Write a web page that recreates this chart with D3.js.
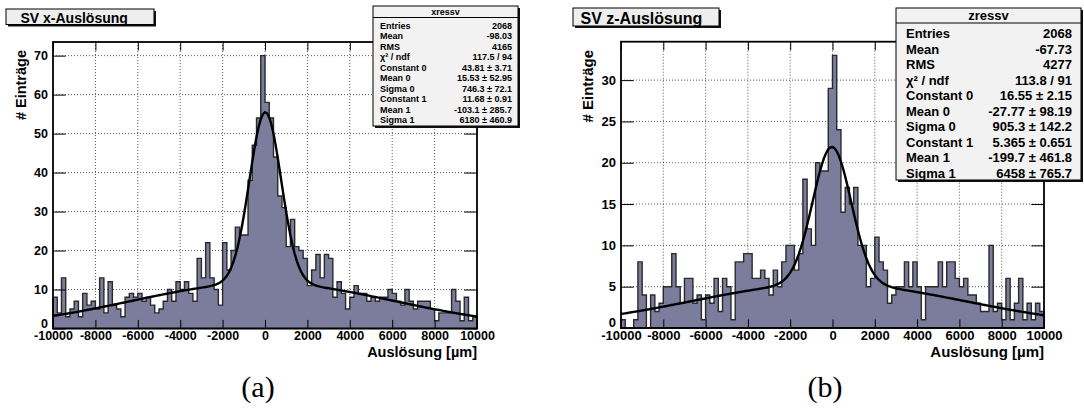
<!DOCTYPE html>
<html>
<head>
<meta charset="utf-8">
<script src="https://cdn.jsdelivr.net/npm/d3@7"></script>
<style>
  body { margin: 0; background: #fff; }
  svg { display: block; font-family: "Liberation Sans", Arial, Helvetica, sans-serif; font-weight: bold; }
</style>
</head>
<body>
<svg id="chart" width="1084" height="414"></svg>
<script>
// histogram range, 100 bins of 200 um
const binLow = -10000
const binHigh = 10000

const xressvCounts = [
  8, 4, 13, 3, 5, 7, 3, 9, 6, 7,
  5, 13, 4, 12, 6, 5, 3, 8, 9, 8,
  9, 7, 8, 6, 4, 5, 7, 10, 7, 12,
  10, 12, 9, 7, 18, 13, 22, 13, 10, 6,
  22, 15, 20, 26, 24, 24, 38, 47, 54, 70,
  58, 54, 44, 34, 31, 21, 28, 21, 20, 18,
  11, 15, 19, 13, 19, 18, 8, 12, 9, 5,
  8, 11, 9, 9, 7, 8, 7, 8, 8, 10,
  9, 7, 6, 10, 7, 5, 7, 7, 7, 5,
  2, 4, 4, 4, 10, 7, 2, 8, 2, 3
]

const zressvCounts = [
  1, 0, 0, 1, 8, 4, 0, 4, 2, 3,
  5, 5, 9, 5, 3, 6, 6, 3, 4, 1,
  4, 3, 6, 2, 6, 5, 1, 8, 8, 9,
  9, 6, 6, 7, 6, 4, 7, 5, 8, 10,
  10, 7, 9, 18, 12, 10, 20, 19, 19, 29,
  33, 24, 14, 17, 15, 17, 10, 10, 5, 6,
  11, 8, 7, 3, 4, 5, 5, 8, 5, 8,
  5, 1, 5, 5, 5, 8, 5, 8, 8, 6,
  5, 6, 4, 4, 3, 2, 2, 10, 2, 3,
  1, 6, 1, 3, 6, 1, 3, 1, 3, 2
]

// double gaussian fit: constant 0, mean 0, sigma 0, constant 1, mean 1, sigma 1
const xressvFit = [43.81, 15.53, 746.3, 11.68, -103.1, 6180]
const zressvFit = [16.55, -27.77, 905.3, 5.365, -199.7, 6458]

const statLabels = ['Entries', 'Mean', 'RMS', 'χ² / ndf', 'Constant 0', 'Mean 0', 'Sigma 0', 'Constant 1', 'Mean 1', 'Sigma 1']
const xressvStats = ['2068', '-98.03', '4165', '117.5 / 94', '43.81 ± 3.71', '15.53 ± 52.95', '746.3 ± 72.1', '11.68 ± 0.91', '-103.1 ± 285.7', '6180 ± 460.9']
const zressvStats = ['2068', '-67.73', '4277', '113.8 / 91', '16.55 ± 2.15', '-27.77 ± 98.19', '905.3 ± 142.2', '5.365 ± 0.651', '-199.7 ± 461.8', '6458 ± 765.7']

const xTicks = [-10000, -8000, -6000, -4000, -2000, 0, 2000, 4000, 6000, 8000, 10000]
const yTicksX = [0, 10, 20, 30, 40, 50, 60, 70]
const yTicksZ = [0, 5, 10, 15, 20, 25, 30]

const svg = d3.select('#chart')

const panels = [
  {
    counts: xressvCounts, fit: xressvFit, stats: xressvStats, name: 'xressv',
    title: 'SV x-Auslösung', caption: '(a)', yTicks: yTicksX, yMinor: 2,
    left: 53, right: 477, top: 42, bottom: 328.5, yMax: 73.5,
    labelSize: 12.5, axisTitleSize: 14.5, yTitleX: 26,
    titleBox: { x: 6, y: 9, w: 148, h: 15.5, size: 14, tx: 20.5, ty: 22.5 },
    statBox: { x: 373, y: 6, w: 145, h: 120, head: 11.5, size: 9, first: 28.5, step: 10.5, pad: 7 },
    captionX: 258
  },
  {
    counts: zressvCounts, fit: zressvFit, stats: zressvStats, name: 'zressv',
    title: 'SV z-Auslösung', caption: '(b)', yTicks: yTicksZ, yMinor: 1,
    left: 621, right: 1044, top: 41.7, bottom: 328, yMax: 34.65,
    labelSize: 13, axisTitleSize: 15, yTitleX: 593,
    titleBox: { x: 573, y: 8, w: 146, h: 18, size: 16, tx: 580.5, ty: 24 },
    statBox: { x: 896, y: 8, w: 185, h: 172, head: 15, size: 13, first: 38, step: 15.5, pad: 10 },
    captionX: 825
  }
]

function gauss2(p, v) {
  return p[0] * Math.exp(-0.5 * Math.pow((v - p[1]) / p[2], 2)) +
    p[3] * Math.exp(-0.5 * Math.pow((v - p[4]) / p[5], 2))
}

function drawPanel(p) {
  const g = svg.append('g')
  const x = d3.scaleLinear().domain([binLow, binHigh]).range([p.left, p.right])
  const y = d3.scaleLinear().domain([0, p.yMax]).range([p.bottom, p.top])
  const binW = (binHigh - binLow) / p.counts.length

  // dotted grid
  g.append('g').selectAll('line')
    .data(xTicks.filter(t => t > binLow && t < binHigh))
    .enter().append('line')
      .attr('x1', d => x(d)).attr('x2', d => x(d))
      .attr('y1', p.top).attr('y2', p.bottom)
      .attr('stroke', '#444').attr('stroke-width', 0.9).attr('stroke-dasharray', '1 2')
  g.append('g').selectAll('line')
    .data(p.yTicks.filter(t => t > 0))
    .enter().append('line')
      .attr('x1', p.left).attr('x2', p.right)
      .attr('y1', d => y(d)).attr('y2', d => y(d))
      .attr('stroke', '#444').attr('stroke-width', 0.9).attr('stroke-dasharray', '1 2')

  // histogram
  const pts = p.counts.map((c, i) => ({ x: binLow + i * binW, c: c }))
  pts.push({ x: binHigh, c: p.counts[p.counts.length - 1] })
  const area = d3.area()
    .x(d => x(d.x))
    .y0(y(0))
    .y1(d => y(d.c))
    .curve(d3.curveStepAfter)
  g.append('path')
    .attr('d', area(pts))
    .attr('fill', '#7c7c9c')
    .attr('stroke', '#2a2a2a')
    .attr('stroke-width', 1.4)

  // fit
  const fitPts = d3.range(0, 201).map(i => binLow + i * (binHigh - binLow) / 200)
  const line = d3.line()
    .x(d => x(d))
    .y(d => y(gauss2(p.fit, d)))
  g.append('path')
    .attr('d', line(fitPts))
    .attr('fill', 'none')
    .attr('stroke', '#000')
    .attr('stroke-width', 2.4)

  // axes, ticks inside the frame
  const xMinor = d3.range(binLow, binHigh + 1, 400)
  const yMinorT = d3.range(0, p.yMax, p.yMinor)
  const xt = 8.6, yt = 12.7
  const plain = d => String(d)

  const bottomAx = g.append('g').attr('transform', `translate(0,${p.bottom})`)
  bottomAx.call(d3.axisBottom(x).tickValues(xMinor).tickSize(-xt / 2).tickFormat(''))
  bottomAx.call(d3.axisBottom(x).tickValues(xTicks).tickSize(-xt).tickPadding(3).tickFormat(plain))
  const topAx = g.append('g').attr('transform', `translate(0,${p.top})`)
  topAx.call(d3.axisTop(x).tickValues(xMinor).tickSize(-xt / 2).tickFormat(''))
  topAx.call(d3.axisTop(x).tickValues(xTicks).tickSize(-xt).tickFormat(''))
  const leftAx = g.append('g').attr('transform', `translate(${p.left},0)`)
  leftAx.call(d3.axisLeft(y).tickValues(yMinorT).tickSize(-yt / 2).tickFormat(''))
  leftAx.call(d3.axisLeft(y).tickValues(p.yTicks).tickSize(-yt).tickPadding(5).tickFormat(plain))
  const rightAx = g.append('g').attr('transform', `translate(${p.right},0)`)
  rightAx.call(d3.axisRight(y).tickValues(yMinorT).tickSize(-yt / 2).tickFormat(''))
  rightAx.call(d3.axisRight(y).tickValues(p.yTicks).tickSize(-yt).tickFormat(''))

  g.selectAll('.domain').remove()
  g.selectAll('.tick line').attr('stroke', '#000').attr('stroke-width', 1)
  g.selectAll('.tick text')
    .attr('fill', '#000')
    .attr('font-family', '"Liberation Sans", Arial, sans-serif')
    .attr('font-weight', 'bold')
    .attr('font-size', p.labelSize)
  // the y "0" sits just above the first x label, as in the original
  leftAx.selectAll('.tick text').filter(d => d === 0).attr('dy', '-0.1em')

  // frame
  g.append('rect')
    .attr('x', p.left).attr('y', p.top)
    .attr('width', p.right - p.left).attr('height', p.bottom - p.top)
    .attr('fill', 'none').attr('stroke', '#000').attr('stroke-width', 1.8)

  // axis titles
  g.append('text')
    .attr('x', p.right).attr('y', 357)
    .attr('text-anchor', 'end')
    .attr('font-size', p.axisTitleSize)
    .text('Auslösung [µm]')
  g.append('text')
    .attr('transform', `translate(${p.yTitleX},50) rotate(-90)`)
    .attr('text-anchor', 'end')
    .attr('font-size', p.axisTitleSize)
    .text('# Einträge')

  // title box
  const tb = p.titleBox
  g.append('rect').attr('x', tb.x + 2).attr('y', tb.y + 2).attr('width', tb.w).attr('height', tb.h).attr('fill', '#111')
  g.append('rect').attr('x', tb.x).attr('y', tb.y).attr('width', tb.w).attr('height', tb.h)
    .attr('fill', '#eeeeee').attr('stroke', '#000').attr('stroke-width', 1)
  g.append('text').attr('x', tb.tx).attr('y', tb.ty).attr('font-size', tb.size).text(p.title)

  // stats box
  const sb = p.statBox
  g.append('rect').attr('x', sb.x + 2).attr('y', sb.y + 2).attr('width', sb.w).attr('height', sb.h).attr('fill', '#111')
  g.append('rect').attr('x', sb.x).attr('y', sb.y).attr('width', sb.w).attr('height', sb.h)
    .attr('fill', '#f2f2f2').attr('stroke', '#000').attr('stroke-width', 1)
  g.append('line')
    .attr('x1', sb.x).attr('x2', sb.x + sb.w)
    .attr('y1', sb.y + sb.head).attr('y2', sb.y + sb.head)
    .attr('stroke', '#000').attr('stroke-width', 1)
  g.append('text')
    .attr('x', sb.x + sb.w / 2).attr('y', sb.y + sb.head - sb.size * 0.25)
    .attr('text-anchor', 'middle').attr('font-size', sb.size)
    .text(p.name)
  const rows = g.append('g').selectAll('g')
    .data(statLabels.map((l, i) => ({ label: l, value: p.stats[i] })))
    .enter().append('g')
  rows.append('text')
    .attr('x', sb.x + sb.pad)
    .attr('y', (d, i) => sb.first + i * sb.step)
    .attr('font-size', sb.size)
    .text(d => d.label)
  rows.append('text')
    .attr('x', sb.x + sb.w - sb.pad + 1)
    .attr('y', (d, i) => sb.first + i * sb.step)
    .attr('text-anchor', 'end')
    .attr('font-size', sb.size)
    .text(d => d.value)

  // caption
  svg.append('text')
    .attr('x', p.captionX).attr('y', 397)
    .attr('text-anchor', 'middle')
    .attr('font-family', '"Liberation Serif", "DejaVu Serif", serif')
    .attr('font-weight', 'normal')
    .attr('font-size', 30)
    .text(p.caption)
}

panels.forEach(drawPanel)
</script>
</body>
</html>
